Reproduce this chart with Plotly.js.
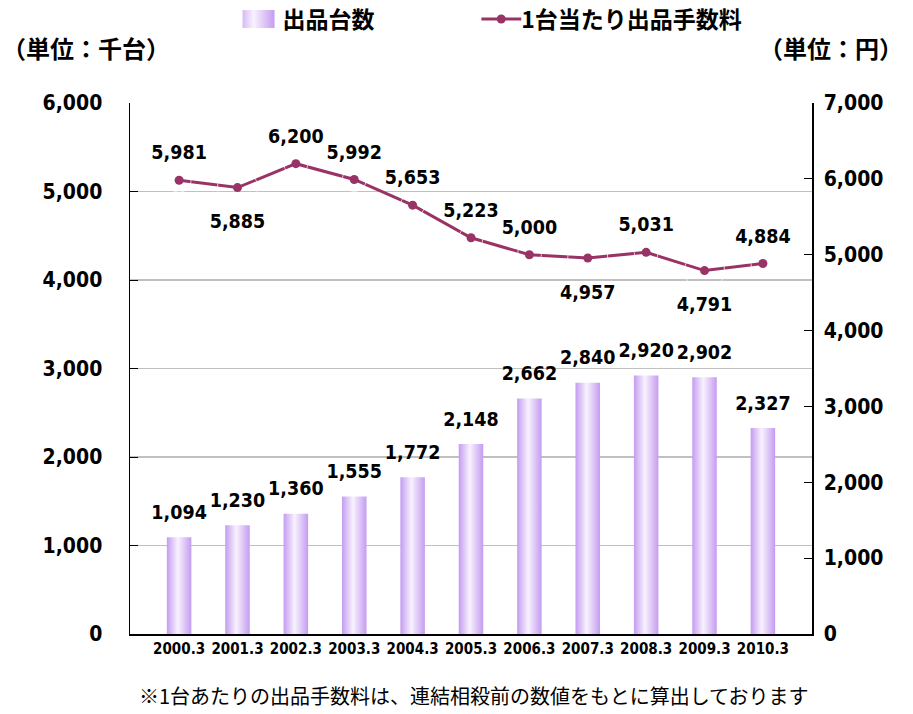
<!DOCTYPE html>
<html><head><meta charset="utf-8">
<script src="https://cdn.plot.ly/plotly-3.0.1.min.js"></script>
<style>body{margin:0;background:#fff}#chart{width:913px;height:714px}</style>
</head><body><div id="chart"></div>
<script>
const categories = ["2000.3","2001.3","2002.3","2003.3","2004.3","2005.3","2006.3","2007.3","2008.3","2009.3","2010.3"];
const units = [1094,1230,1360,1555,1772,2148,2662,2840,2920,2902,2327];
const fees = [5981,5885,6200,5992,5653,5223,5000,4957,5031,4791,4884];
const feeLabelSide = ["top","bottom","top","top","top","top","top","bottom","top","bottom","top"];
const unitName = "出品台数";
const feeName = "1台当たり出品手数料";
const leftUnit = "（単位：千台）";
const rightUnit = "（単位：円）";
const footnote = "※1台あたりの出品手数料は、連結相殺前の数値をもとに算出しております";

const F = "'DejaVu Sans Condensed','Noto Sans CJK JP',sans-serif";
const FJ = "'Noto Sans CJK JP',sans-serif";
const fmt = v => v.toLocaleString('en-US');
const lblFont = {family:F,size:19.5,color:'#000',weight:'bold'};
const clear = 'rgba(0,0,0,0)';

const traces = [
  {type:'bar', x:categories, y:units, name:unitName, width:0.42, legend:'legend',
   marker:{color:'#d2b4f4'}, hoverinfo:'skip'},
  {type:'scatter', mode:'markers+text', x:categories, y:units, showlegend:false,
   marker:{color:clear, size:20}, text:units.map(fmt), textposition:'top center',
   textfont:lblFont, cliponaxis:false, hoverinfo:'skip'},
  {type:'scatter', mode:'lines+markers', x:categories, y:fees, yaxis:'y2', name:feeName, legend:'legend2',
   line:{color:'#993366',width:3}, marker:{color:'#993366',size:9}, cliponaxis:false},
  {type:'scatter', mode:'markers+text', x:categories, y:fees, yaxis:'y2', showlegend:false,
   marker:{color:clear, size:feeLabelSide.map(s => s === 'top' ? 24 : 40)},
   text:fees.map(fmt), textposition:feeLabelSide.map(s => s + ' center'),
   textfont:lblFont, cliponaxis:false, hoverinfo:'skip'}
];

const legFont = {family:FJ,size:23,color:'#000',weight:'bold'};
const layout = {
  width:913, height:714,
  margin:{l:130,r:101,t:103,b:80,autoexpand:false},
  paper_bgcolor:'#fff', plot_bgcolor:'#fff',
  separators:'.,',
  showlegend:true,
  legend:{orientation:'h', x:0.165, y:1.158, xanchor:'left', yanchor:'middle', font:legFont, bgcolor:clear},
  legend2:{orientation:'h', x:0.515, y:1.158, xanchor:'left', yanchor:'middle', font:legFont, bgcolor:clear},
  xaxis:{type:'category', showline:true, linecolor:'#000', linewidth:1.5, ticks:'',
         tickfont:{family:F,size:15,color:'#000',weight:'bold'}, fixedrange:true},
  yaxis:{range:[0,6000], dtick:1000, tickformat:',d', showline:true, linecolor:'#000', linewidth:1.5,
         ticks:'inside', ticklen:8, tickcolor:'#000', gridcolor:'#c0c0c0', gridwidth:1.5,
         zeroline:false, tickfont:{family:F,size:21,color:'#000',weight:'bold'}, ticklabelstandoff:22},
  yaxis2:{range:[0,7000], dtick:1000, tickformat:',d', overlaying:'y', side:'right', showline:true,
          linecolor:'#000', linewidth:1.5, ticks:'inside', ticklen:8, tickcolor:'#000', showgrid:false,
          zeroline:false, tickfont:{family:F,size:21,color:'#000',weight:'bold'}, ticklabelstandoff:6},
  annotations:[
    {text:leftUnit, xref:'paper', yref:'paper', x:-0.19, y:1.104, xanchor:'left', yanchor:'middle', showarrow:false,
     font:{family:FJ,size:24,color:'#000',weight:'bold'}},
    {text:rightUnit, xref:'paper', yref:'paper', x:1.137, y:1.104, xanchor:'right', yanchor:'middle', showarrow:false,
     font:{family:FJ,size:24,color:'#000',weight:'bold'}},
    {text:footnote, xref:'paper', yref:'paper', x:0.01, y:-0.115, xanchor:'left', yanchor:'middle', showarrow:false,
     font:{family:FJ,size:20,color:'#000'}}
  ]
};

const gdDiv = document.getElementById('chart');
function decorate() {
  const svg = gdDiv.querySelector('svg.main-svg');
  if (!svg) return;
  const ns = 'http://www.w3.org/2000/svg';
  if (!document.getElementById('barGrad')) {
    let defs = svg.querySelector('defs');
    if (!defs) { defs = document.createElementNS(ns,'defs'); svg.insertBefore(defs, svg.firstChild); }
    const g = document.createElementNS(ns,'linearGradient');
    g.setAttribute('id','barGrad'); g.setAttribute('x1','0'); g.setAttribute('x2','1'); g.setAttribute('y1','0'); g.setAttribute('y2','0');
    [['0','#c49cf0'],['0.45','#f8f2fe'],['1','#c49cf0']].forEach(([o,c]) => {
      const s = document.createElementNS(ns,'stop'); s.setAttribute('offset',o); s.setAttribute('stop-color',c); g.appendChild(s);
    });
    defs.appendChild(g);
  }
  gdDiv.querySelectorAll('.barlayer .point path').forEach(p => { p.style.fill = 'url(#barGrad)'; p.style.stroke='none'; });
  gdDiv.querySelectorAll('g.traces').forEach(t => {
    const txt = t.querySelector('text');
    if (!txt) return;
    if (txt.textContent.trim() === unitName) {
      t.querySelectorAll('path').forEach(p => {
        p.setAttribute('d','M19,9H-19V-9H19Z');
        p.setAttribute('transform','translate(13,0)');
        p.style.fill = 'url(#barGrad)'; p.style.stroke = 'none'; p.style.opacity = '1';
      });
    } else if (txt.textContent.trim() === feeName) {
      t.querySelectorAll('.legendlines path').forEach(p => { p.setAttribute('d','M0,0h40'); });
    }
  });
}
Plotly.newPlot(gdDiv, traces, layout, {displayModeBar:false, staticPlot:true}).then(() => {
  decorate();
  gdDiv.on('plotly_afterplot', decorate);
  setTimeout(decorate, 50); setTimeout(decorate, 300);
});
</script></body></html>
